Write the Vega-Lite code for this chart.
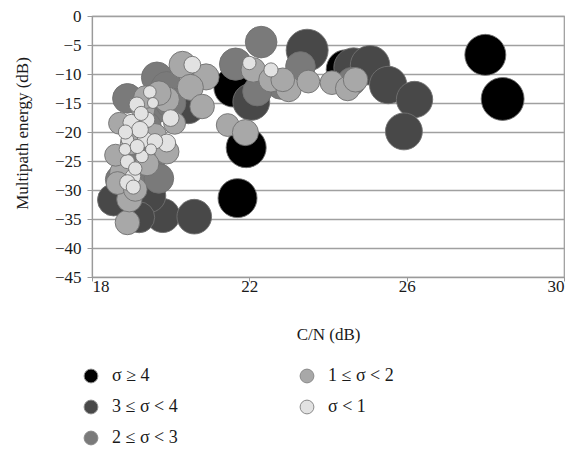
{
  "$schema": "https://vega.github.io/schema/vega-lite/v6.json",
  "autosize": "none",
  "width": 472,
  "height": 261,
  "padding": {"left": 92, "top": 16, "right": 13, "bottom": 173},
  "background": "white",
  "config": {
    "view": {"stroke": "#9a9a9a", "strokeWidth": 1.2},
    "font": "Liberation Serif",
    "axis": {
      "labelFont": "Liberation Serif",
      "titleFont": "Liberation Serif",
      "labelFontSize": 17,
      "titleFontSize": 17,
      "titleFontWeight": "normal",
      "labelColor": "#1a1a1a",
      "titleColor": "#1a1a1a",
      "domainColor": "#9a9a9a",
      "tickColor": "#9a9a9a",
      "gridColor": "#a0a0a0",
      "gridWidth": 1.4,
      "domainWidth": 1.2
    },
    "legend": {
      "labelFont": "Liberation Serif",
      "labelFontSize": 18,
      "labelColor": "#1a1a1a"
    }
  },
  "data": {
    "values": [
      {"cn": 28.0, "energy": -6.7, "group": "σ ≥ 4", "weight": 4.2},
      {"cn": 28.44, "energy": -14.3, "group": "σ ≥ 4", "weight": 4.6},
      {"cn": 21.7, "energy": -31.4, "group": "σ ≥ 4", "weight": 3.8},
      {"cn": 21.92, "energy": -22.7, "group": "σ ≥ 4", "weight": 4.0},
      {"cn": 21.6, "energy": -12.3, "group": "σ ≥ 4", "weight": 3.9},
      {"cn": 24.45, "energy": -9.2, "group": "σ ≥ 4", "weight": 3.8},
      {"cn": 23.47, "energy": -5.9, "group": "3 ≤ σ < 4", "weight": 4.4},
      {"cn": 24.65, "energy": -8.9, "group": "3 ≤ σ < 4", "weight": 3.9},
      {"cn": 25.07, "energy": -8.5, "group": "3 ≤ σ < 4", "weight": 3.9},
      {"cn": 25.53, "energy": -11.9, "group": "3 ≤ σ < 4", "weight": 3.5},
      {"cn": 26.2, "energy": -14.4, "group": "3 ≤ σ < 4", "weight": 3.3},
      {"cn": 25.93, "energy": -19.9, "group": "3 ≤ σ < 4", "weight": 3.4},
      {"cn": 22.05, "energy": -14.8, "group": "3 ≤ σ < 4", "weight": 3.4},
      {"cn": 19.8, "energy": -34.4, "group": "3 ≤ σ < 4", "weight": 2.9},
      {"cn": 20.6, "energy": -34.6, "group": "3 ≤ σ < 4", "weight": 3.0},
      {"cn": 18.55, "energy": -31.7, "group": "3 ≤ σ < 4", "weight": 2.6},
      {"cn": 19.45, "energy": -31.0, "group": "3 ≤ σ < 4", "weight": 2.8},
      {"cn": 19.2, "energy": -34.7, "group": "3 ≤ σ < 4", "weight": 2.4},
      {"cn": 20.45, "energy": -15.8, "group": "3 ≤ σ < 4", "weight": 2.6},
      {"cn": 22.3, "energy": -4.5, "group": "2 ≤ σ < 3", "weight": 2.5},
      {"cn": 21.65, "energy": -8.3, "group": "2 ≤ σ < 3", "weight": 2.6},
      {"cn": 19.65, "energy": -10.6, "group": "2 ≤ σ < 3", "weight": 2.4},
      {"cn": 19.9, "energy": -12.3, "group": "2 ≤ σ < 3", "weight": 2.5},
      {"cn": 22.8, "energy": -11.8, "group": "2 ≤ σ < 3", "weight": 2.2},
      {"cn": 23.3, "energy": -8.7, "group": "2 ≤ σ < 3", "weight": 2.2},
      {"cn": 24.6, "energy": -11.3, "group": "2 ≤ σ < 3", "weight": 2.0},
      {"cn": 18.9, "energy": -14.2, "group": "2 ≤ σ < 3", "weight": 2.2},
      {"cn": 19.65, "energy": -15.9, "group": "2 ≤ σ < 3", "weight": 2.1},
      {"cn": 19.5, "energy": -26.5, "group": "2 ≤ σ < 3", "weight": 2.0},
      {"cn": 19.7, "energy": -28.0, "group": "2 ≤ σ < 3", "weight": 2.2},
      {"cn": 18.7, "energy": -28.2, "group": "2 ≤ σ < 3", "weight": 2.0},
      {"cn": 19.3, "energy": -23.5, "group": "2 ≤ σ < 3", "weight": 2.0},
      {"cn": 20.0, "energy": -15.0, "group": "2 ≤ σ < 3", "weight": 2.3},
      {"cn": 19.4, "energy": -19.0, "group": "2 ≤ σ < 3", "weight": 2.0},
      {"cn": 22.2, "energy": -13.0, "group": "2 ≤ σ < 3", "weight": 2.1},
      {"cn": 21.45, "energy": -18.8, "group": "1 ≤ σ < 2", "weight": 1.3},
      {"cn": 21.9, "energy": -20.1, "group": "1 ≤ σ < 2", "weight": 1.7},
      {"cn": 20.3, "energy": -8.4, "group": "1 ≤ σ < 2", "weight": 1.8},
      {"cn": 20.9, "energy": -10.5, "group": "1 ≤ σ < 2", "weight": 1.7},
      {"cn": 20.5, "energy": -12.3, "group": "1 ≤ σ < 2", "weight": 1.7},
      {"cn": 20.8, "energy": -15.6, "group": "1 ≤ σ < 2", "weight": 1.5},
      {"cn": 22.1, "energy": -9.3, "group": "1 ≤ σ < 2", "weight": 1.5},
      {"cn": 22.55, "energy": -11.0, "group": "1 ≤ σ < 2", "weight": 1.5},
      {"cn": 23.0, "energy": -12.6, "group": "1 ≤ σ < 2", "weight": 1.6},
      {"cn": 23.5, "energy": -11.3, "group": "1 ≤ σ < 2", "weight": 1.3},
      {"cn": 24.1, "energy": -11.5, "group": "1 ≤ σ < 2", "weight": 1.4},
      {"cn": 24.5, "energy": -12.5, "group": "1 ≤ σ < 2", "weight": 1.5},
      {"cn": 22.85, "energy": -11.0, "group": "1 ≤ σ < 2", "weight": 1.4},
      {"cn": 24.7, "energy": -11.0, "group": "1 ≤ σ < 2", "weight": 1.5},
      {"cn": 19.9, "energy": -23.4, "group": "1 ≤ σ < 2", "weight": 1.5},
      {"cn": 18.9, "energy": -35.6, "group": "1 ≤ σ < 2", "weight": 1.5},
      {"cn": 18.95, "energy": -31.6, "group": "1 ≤ σ < 2", "weight": 1.6},
      {"cn": 19.9, "energy": -14.4, "group": "1 ≤ σ < 2", "weight": 1.6},
      {"cn": 18.75, "energy": -27.0, "group": "1 ≤ σ < 2", "weight": 1.4},
      {"cn": 18.65, "energy": -28.8, "group": "1 ≤ σ < 2", "weight": 1.3},
      {"cn": 19.1, "energy": -29.9, "group": "1 ≤ σ < 2", "weight": 1.4},
      {"cn": 19.3, "energy": -16.0, "group": "1 ≤ σ < 2", "weight": 1.4},
      {"cn": 19.6, "energy": -20.5, "group": "1 ≤ σ < 2", "weight": 1.3},
      {"cn": 19.0, "energy": -22.0, "group": "1 ≤ σ < 2", "weight": 1.2},
      {"cn": 19.35, "energy": -14.0, "group": "1 ≤ σ < 2", "weight": 1.3},
      {"cn": 19.7, "energy": -13.3, "group": "1 ≤ σ < 2", "weight": 1.5},
      {"cn": 20.1, "energy": -18.5, "group": "1 ≤ σ < 2", "weight": 1.2},
      {"cn": 19.4, "energy": -25.5, "group": "1 ≤ σ < 2", "weight": 1.4},
      {"cn": 18.6, "energy": -24.0, "group": "1 ≤ σ < 2", "weight": 1.2},
      {"cn": 18.7, "energy": -18.5, "group": "1 ≤ σ < 2", "weight": 1.2},
      {"cn": 22.0, "energy": -8.1, "group": "σ < 1", "weight": 0.45},
      {"cn": 22.55, "energy": -9.3, "group": "σ < 1", "weight": 0.5},
      {"cn": 20.55, "energy": -8.4, "group": "σ < 1", "weight": 0.7},
      {"cn": 20.0, "energy": -17.6, "group": "σ < 1", "weight": 0.7},
      {"cn": 19.9, "energy": -21.9, "group": "σ < 1", "weight": 0.8},
      {"cn": 19.47, "energy": -13.1, "group": "σ < 1", "weight": 0.4},
      {"cn": 19.14, "energy": -15.3, "group": "σ < 1", "weight": 0.6},
      {"cn": 19.0, "energy": -18.4, "group": "σ < 1", "weight": 0.7},
      {"cn": 19.4, "energy": -17.9, "group": "σ < 1", "weight": 0.6},
      {"cn": 18.9, "energy": -21.3, "group": "σ < 1", "weight": 0.4},
      {"cn": 19.35, "energy": -21.3, "group": "σ < 1", "weight": 0.6},
      {"cn": 19.6, "energy": -21.6, "group": "σ < 1", "weight": 0.6},
      {"cn": 18.9, "energy": -25.1, "group": "σ < 1", "weight": 0.5},
      {"cn": 19.04, "energy": -27.7, "group": "σ < 1", "weight": 0.6},
      {"cn": 18.84, "energy": -23.0, "group": "σ < 1", "weight": 0.35},
      {"cn": 19.27, "energy": -24.2, "group": "σ < 1", "weight": 0.4},
      {"cn": 19.22, "energy": -19.6, "group": "σ < 1", "weight": 0.7},
      {"cn": 18.9, "energy": -28.7, "group": "σ < 1", "weight": 0.6},
      {"cn": 19.05, "energy": -29.5, "group": "σ < 1", "weight": 0.5},
      {"cn": 19.25, "energy": -16.8, "group": "σ < 1", "weight": 0.5},
      {"cn": 18.85, "energy": -20.0, "group": "σ < 1", "weight": 0.5},
      {"cn": 19.5, "energy": -23.0, "group": "σ < 1", "weight": 0.3},
      {"cn": 19.1, "energy": -26.3, "group": "σ < 1", "weight": 0.45},
      {"cn": 19.15, "energy": -22.5, "group": "σ < 1", "weight": 0.5},
      {"cn": 19.55, "energy": -15.0, "group": "σ < 1", "weight": 0.3}
    ]
  },
  "mark": {"type": "point", "shape": "circle", "filled": true, "opacity": 1, "stroke": "#707070", "strokeWidth": 0.9},
  "encoding": {
    "x": {
      "field": "cn", "type": "quantitative",
      "scale": {"domain": [18, 30], "nice": false, "zero": false},
      "axis": {
        "values": [18, 22, 26, 30], "grid": false, "domain": true,
        "tickSize": 4, "labelPadding": -3,
        "title": "C/N (dB)", "titleY": 57, "titleBaseline": "middle"
      }
    },
    "y": {
      "field": "energy", "type": "quantitative",
      "scale": {"domain": [-45, 0], "nice": false, "zero": false},
      "axis": {
        "values": [0, -5, -10, -15, -20, -25, -30, -35, -40, -45],
        "grid": true, "tickSize": 5, "labelPadding": 6,
        "title": "Multipath energy (dB)",
        "titleX": -70, "titleY": 117, "titleAlign": "center", "titleBaseline": "middle", "titleAngle": -90
      }
    },
    "color": {
      "field": "group", "type": "nominal",
      "scale": {
        "domain": ["σ ≥ 4", "3 ≤ σ < 4", "2 ≤ σ < 3", "1 ≤ σ < 2", "σ < 1"],
        "range": ["#000000", "#484848", "#7a7a7a", "#a8a8a8", "#e2e2e2"]
      },
      "legend": {
        "title": null, "orient": "none", "legendX": -10, "legendY": 351,
        "columns": 2, "columnPadding": 120, "rowPadding": 13,
        "padding": 0, "symbolType": "circle", "symbolSize": 190,
        "symbolStrokeColor": "#8a8a8a", "symbolStrokeWidth": 1, "symbolOpacity": 1,
        "labelOffset": 12
      }
    },
    "size": {
      "field": "weight", "type": "quantitative",
      "scale": {"domain": [0, 5], "range": [0, 2000], "zero": true},
      "legend": null
    }
  }
}
